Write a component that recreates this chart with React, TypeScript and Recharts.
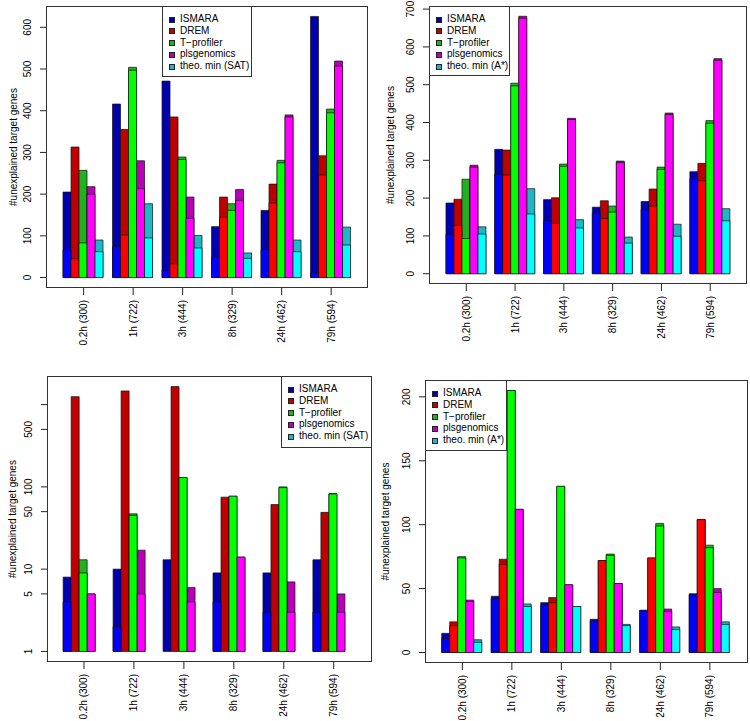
import React from "react";
import { BarChart, Bar, XAxis, YAxis } from "recharts";

const categories = ["0.2h (300)", "1h (722)", "3h (444)", "8h (329)", "24h (462)", "79h (594)"];
const methods = ["ISMARA", "DREM", "T\u2212profiler", "plsgenomics"];
const darkColors = ["#0000B0", "#C00000", "#20B020", "#B800B8", "#1CB8C4"];
const brightColors = ["#0000FF", "#FF0000", "#00FF00", "#FF00FF", "#00FFFF"];

// rows: ISMARA, DREM, T-profiler, plsgenomics, theo. min
const satTotals = [
  [205, 416, 471, 122, 161, 626],
  [313, 355, 385, 193, 224, 292],
  [257, 504, 289, 177, 281, 404],
  [218, 280, 193, 211, 390, 519],
  [90, 177, 101, 59, 90, 121],
];
const satLows = [
  [67, 74, 18, 49, 67, 11],
  [45, 102, 33, 145, 179, 246],
  [83, 497, 283, 161, 275, 395],
  [200, 213, 142, 185, 385, 507],
  [62, 95, 71, 46, 62, 78],
];

const astarTotals = [
  [187, 329, 196, 176, 191, 270],
  [197, 327, 201, 193, 224, 292],
  [250, 504, 290, 179, 282, 405],
  [287, 681, 411, 298, 425, 569],
  [124, 225, 143, 97, 131, 172],
];
const astarLows = [
  [104, 263, 140, 160, 169, 250],
  [128, 261, 133, 146, 179, 246],
  [93, 497, 284, 163, 276, 398],
  [282, 676, 408, 294, 421, 565],
  [105, 158, 121, 81, 99, 140],
];

const logTotals = [
  [8, 10, 13, 9, 9, 13],
  [1250, 1466, 1656, 75, 61, 49],
  [13, 47, 130, 77, 100, 83],
  [5, 17, 6, 14, 7, 5],
  [0, 0, 0, 0, 0, 0],
];
const logLows = [
  [4, 2, 0, 4, 3, 3],
  [0, 0, 0, 0, 0, 0],
  [9, 45, 130, 77, 98, 82],
  [5, 5, 4, 14, 3, 3],
  [0, 0, 0, 0, 0, 0],
];

const smallTotals = [
  [15, 44, 39, 26, 33, 46],
  [24, 73, 43, 72, 74, 104],
  [75, 205, 130, 77, 101, 84],
  [41, 112, 53, 54, 34, 50],
  [10, 38, 36, 22, 20, 24],
];
const smallLows = [
  [11, 42, 37, 25, 33, 45],
  [21, 69, 39, 72, 74, 104],
  [74, 205, 130, 76, 99, 82],
  [40, 112, 53, 54, 32, 47],
  [8, 36, 36, 21, 18, 22],
];

const ticksSat = [0, 100, 200, 300, 400, 500, 600];
const ticksAstar = [0, 100, 200, 300, 400, 500, 600, 700];
const ticksLog = [1, 5, 10, 50, 100, 500, 1000];
const ticksSmall = [0, 50, 100, 150, 200];

const FONT = "'Liberation Sans', Arial, Helvetica, sans-serif";

function buildRows(totals: number[][], lows: number[][], base: number) {
  return categories.map((cat, i) => {
    const row: any = { cat };
    totals.forEach((t, m) => {
      row["t" + m] = t[i] > base ? [base, t[i]] : null;
      row["l" + m] = lows[m][i] > base ? [base, lows[m][i]] : null;
    });
    return row;
  });
}

const XTick = (props: any) => {
  const { x, y, payload } = props;
  return (
    <text x={x} y={y} transform={`rotate(-90 ${x} ${y})`} textAnchor="end" dominantBaseline="central" fontSize={10} fill="#000">
      {payload.value}
    </text>
  );
};

const YTick = (props: any) => {
  const { x, y, payload } = props;
  // R drops the 1000 label on the log axis (overlaps 500)
  const label = payload.value === 1000 ? "" : String(payload.value);
  return (
    <text x={x} y={y} transform={`rotate(-90 ${x} ${y})`} textAnchor="middle" dominantBaseline="central" fontSize={10} fill="#000">
      {label}
    </text>
  );
};

function Panel(p: any) {
  const [bx, by, bw, bh] = p.box;
  const [lx, ly, lw, lh] = p.legend;
  const base = p.log ? 1 : 0;
  const rows = buildRows(p.totals, p.lows, base);
  const max = Math.max(...p.totals.flat());
  let domain: number[];
  if (p.log) {
    const L = Math.log10(max);
    domain = [Math.pow(10, -0.04 * L), Math.pow(10, 1.04 * L)];
  } else {
    domain = [-0.04 * max, 1.04 * max];
  }
  const labels = [...methods, p.theo];
  const pad = { left: p.pad[0], right: p.pad[1] };

  return (
    <div style={{ position: "absolute", left: p.left, top: p.top, width: 375, height: 360 }}>
      <BarChart
        width={375}
        height={360}
        data={rows}
        margin={{ top: by, right: 375 - bx - bw, bottom: 0, left: 0 }}
        barCategoryGap="8.333%"
        barGap={0}
      >
        <XAxis
          xAxisId="a"
          dataKey="cat"
          height={360 - by - bh}
          padding={pad}
          axisLine={false}
          tickLine={{ stroke: "#222" }}
          tickSize={7}
          tickMargin={5}
          interval={0}
          tick={<XTick />}
        />
        <XAxis xAxisId="b" dataKey="cat" hide padding={pad} />
        <YAxis
          width={bx}
          type="number"
          scale={p.log ? "log" : "auto"}
          domain={domain}
          allowDataOverflow
          ticks={p.ticks}
          interval={0}
          axisLine={false}
          tickLine={{ stroke: "#222" }}
          tickSize={6}
          tickMargin={12}
          tick={<YTick />}
          label={{
            value: "#unexplained target genes",
            angle: -90,
            position: "insideLeft",
            offset: p.titleX,
            fontSize: 10,
            fill: "#000",
            style: { textAnchor: "middle" },
          }}
        />
        {labels.map((_, m) => (
          <Bar key={"t" + m} xAxisId="a" dataKey={"t" + m} fill={darkColors[m]} stroke="#111" strokeWidth={0.7} isAnimationActive={false} />
        ))}
        {labels.map((_, m) => (
          <Bar key={"l" + m} xAxisId="b" dataKey={"l" + m} fill={brightColors[m]} stroke="#111" strokeWidth={0.7} isAnimationActive={false} />
        ))}
      </BarChart>
      <div
        style={{
          position: "absolute",
          left: bx,
          top: by,
          width: bw,
          height: bh,
          border: "1px solid #333",
          boxSizing: "border-box",
          pointerEvents: "none",
        }}
      />
      <div
        style={{
          position: "absolute",
          left: lx,
          top: ly,
          width: lw,
          height: lh,
          border: "1px solid #333",
          boxSizing: "border-box",
          background: "#fff",
          paddingTop: 6,
          fontFamily: FONT,
          fontSize: 10,
        }}
      >
        {labels.map((name, m) => (
          <div key={name} style={{ position: "relative", height: 11.8, lineHeight: "11.8px" }}>
            <span
              style={{
                position: "absolute",
                left: 6,
                top: 3.6,
                width: 4,
                height: 4,
                background: darkColors[m],
                border: "0.6px solid #222",
              }}
            />
            <span style={{ position: "absolute", left: 17, top: 0, whiteSpace: "nowrap", color: "#000" }}>{name}</span>
          </div>
        ))}
      </div>
    </div>
  );
}

const panels = [
  { left: 0, top: 0, totals: satTotals, lows: satLows, log: false, ticks: ticksSat, theo: "theo. min (SAT)", box: [46, 6, 322, 282], pad: [12.9, 12.1], titleX: 13, legend: [162, 6, 90, 71] },
  { left: 375, top: 0, totals: astarTotals, lows: astarLows, log: false, ticks: ticksAstar, theo: "theo. min (A*)", box: [54, 6, 318, 278], pad: [12.9, 12.4], titleX: 15, legend: [54, 6, 81, 70] },
  { left: 0, top: 360, totals: logTotals, lows: logLows, log: true, ticks: ticksLog, theo: "theo. min (SAT)", box: [47, 16, 325, 286], pad: [12, 13.3], titleX: 12, legend: [281, 16, 91, 72] },
  { left: 375, top: 360, totals: smallTotals, lows: smallLows, log: false, ticks: ticksSmall, theo: "theo. min (A*)", box: [50, 20, 323, 283], pad: [12.6, 13.4], titleX: 10, legend: [50, 20, 82, 71] },
];

export default function App() {
  return (
    <div style={{ position: "absolute", left: 0, top: 0, width: 750, height: 721, background: "#fff", fontFamily: FONT }}>
      {panels.map((p, i) => (
        <Panel key={i} {...p} />
      ))}
    </div>
  );
}
